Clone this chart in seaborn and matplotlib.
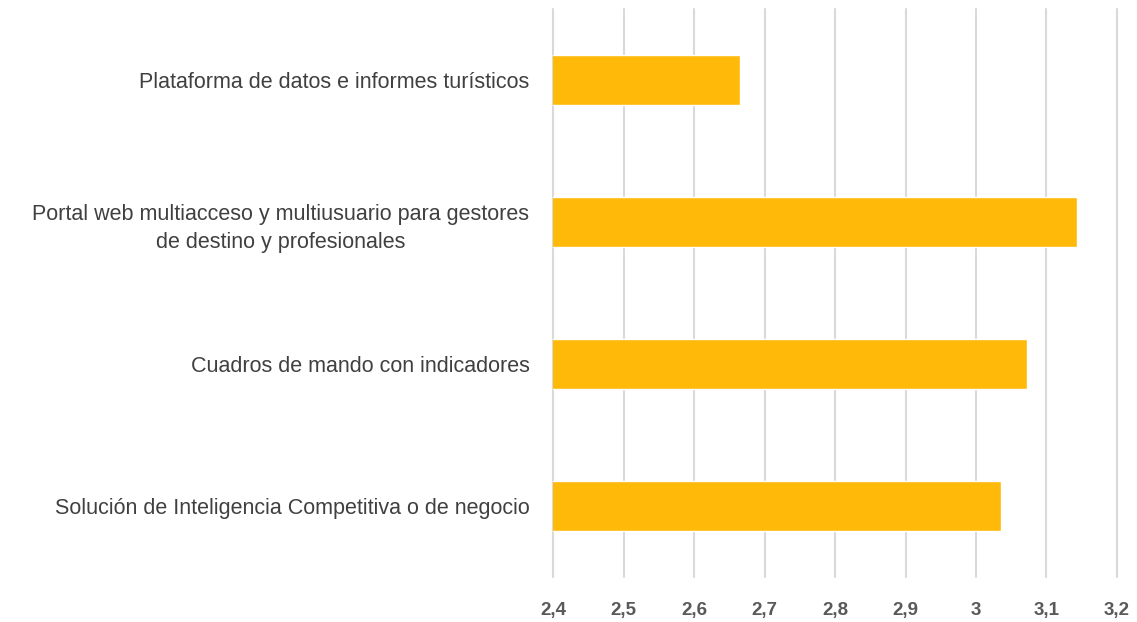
import matplotlib
matplotlib.use("Agg")
import matplotlib.pyplot as plt
import seaborn as sns
import pandas as pd

categories = [
    "Plataforma de datos e informes turísticos",
    "Portal web multiacceso y multiusuario para gestores\nde destino y profesionales",
    "Cuadros de mando con indicadores",
    "Solución de Inteligencia Competitiva o de negocio",
]
values = [2.665, 3.143, 3.072, 3.036]
xticks = [2.4, 2.5, 2.6, 2.7, 2.8, 2.9, 3.0, 3.1, 3.2]
xticklabels = ["2,4", "2,5", "2,6", "2,7", "2,8", "2,9", "3", "3,1", "3,2"]

sns.set_style("white")
plt.rcParams["font.family"] = ["Liberation Sans", "DejaVu Sans"]

df = pd.DataFrame({"cat": categories, "val": values})

fig = plt.figure(figsize=(11.37, 6.22), dpi=100)
ax = fig.add_axes([0.4864, 0.0723, 0.496, 0.9132])
sns.barplot(data=df, y="cat", x="val", orient="h", color="#FFB909",
            saturation=1, width=0.35, ax=ax)

ax.set_xlim(2.4, 3.2)
ax.set_ylim(3.5, -0.5)
ax.set_xticks(xticks)
ax.set_xticklabels(xticklabels, fontsize=13.5, fontweight="bold", color="#595959")
ax.set_xlabel("")
ax.set_ylabel("")
for lab in ax.get_yticklabels():
    lab.set_fontsize(15.5)
    lab.set_color("#404040")
    lab.set_multialignment("center")
    lab.set_linespacing(1.45)
ax.tick_params(axis="y", length=0, pad=17)
ax.tick_params(axis="x", length=0, pad=18)
ax.grid(axis="x", color="#D9D9D9", linewidth=1.5)
for gl in ax.get_xgridlines():
    gl.set_clip_on(False)
ax.set_axisbelow(True)
for s in ax.spines.values():
    s.set_visible(False)

fig.savefig("out.png", dpi=100)
